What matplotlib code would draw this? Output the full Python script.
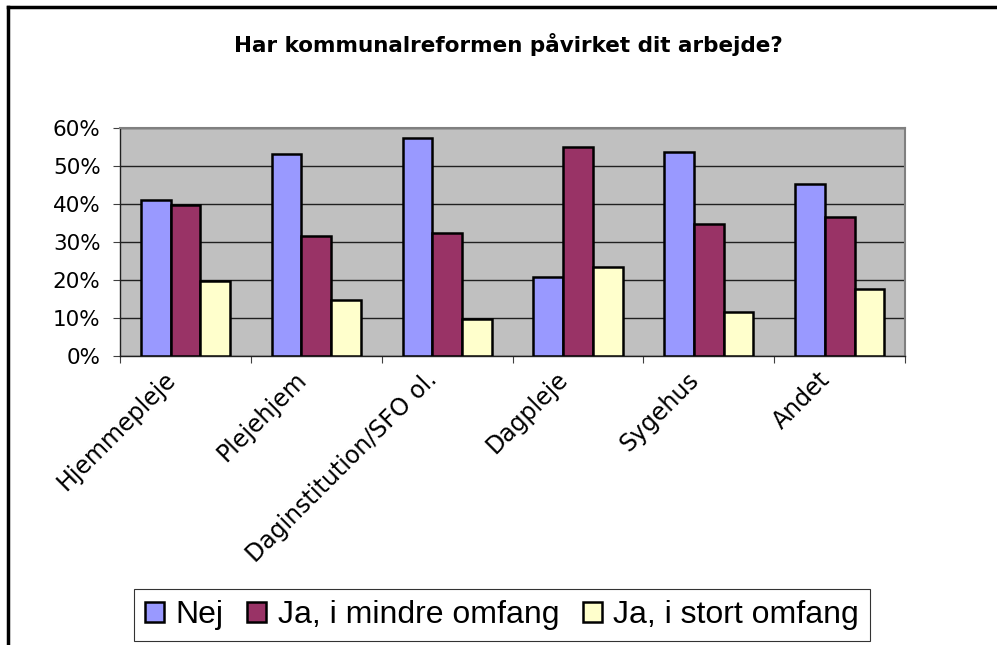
import numpy as np
import matplotlib.pyplot as plt
import matplotlib.transforms as mtransforms
from matplotlib.ticker import FuncFormatter, MultipleLocator, FixedLocator
from matplotlib.lines import Line2D

# Data
categories = ['Hjemmepleje', 'Plejehjem', 'Daginstitution/SFO ol.', 'Dagpleje', 'Sygehus', 'Andet']
nej = [41.0, 53.2, 57.4, 20.8, 53.8, 45.3]
ja_mindre = [39.7, 31.7, 32.4, 55.0, 34.8, 36.7]
ja_stort = [19.6, 14.6, 9.7, 23.3, 11.7, 17.7]
series_names = ['Nej', 'Ja, i mindre omfang', 'Ja, i stort omfang']
colors = ['#9999FF', '#993366', '#FFFFCC']

plt.rcParams['font.family'] = ['Liberation Sans', 'DejaVu Sans']

fig = plt.figure(figsize=(9.97, 6.45), dpi=100)
ax = fig.add_axes([0.1204, 0.4481, 0.7874, 0.3535])
ax.set_facecolor('#C0C0C0')

x = np.arange(len(categories))
w = 0.227
for i, (vals, name, c) in enumerate(zip([nej, ja_mindre, ja_stort], series_names, colors)):
    ax.bar(x + (i - 1) * w, vals, width=w, color=c, edgecolor='black', linewidth=1.8,
           label=name, zorder=3)

ax.set_xlim(-0.5, len(categories) - 0.5)
ax.set_ylim(0, 60)
ax.yaxis.set_major_locator(MultipleLocator(10))
ax.yaxis.set_major_formatter(FuncFormatter(lambda v, p: f'{v:.0f}%'))
ax.grid(axis='y', color='#202020', linewidth=1.0, zorder=1)
ax.tick_params(axis='y', labelsize=15.5, direction='out', length=5, pad=9, color='#404040')
for lbl in ax.get_yticklabels():
    lbl.set_family('DejaVu Sans')

ax.xaxis.set_major_locator(FixedLocator(np.arange(-0.5, len(categories), 1.0)))
ax.xaxis.set_major_formatter(FuncFormatter(lambda v, p: ''))
ax.xaxis.set_minor_locator(FixedLocator(x))
ax.set_xticklabels(categories, minor=True, rotation=45, ha='right', rotation_mode='anchor',
                   fontsize=17, family='DejaVu Sans')
ax.tick_params(axis='x', which='major', direction='out', length=5, color='#404040')
ax.tick_params(axis='x', which='minor', length=0, pad=6)
shift = mtransforms.ScaledTranslation(-22 / 100, -3 / 100, fig.dpi_scale_trans)
for lbl in ax.get_xticklabels(minor=True):
    lbl.set_transform(lbl.get_transform() + shift)

for s in ['top', 'right']:
    ax.spines[s].set_color('#808080')
    ax.spines[s].set_linewidth(1.5)
for s in ['left', 'bottom']:
    ax.spines[s].set_color('#202020')
    ax.spines[s].set_linewidth(1.0)

fig.text(0.51, 0.931, 'Har kommunalreformen påvirket dit arbejde?', ha='center', va='center',
         fontsize=15.5, fontweight='bold', family='DejaVu Sans')

leg = fig.legend(loc='center', bbox_to_anchor=(0.5035, 0.0465), ncol=3, fontsize=23,
                 frameon=True, fancybox=False, edgecolor='black', handlelength=0.6,
                 handleheight=0.6, handletextpad=0.35, columnspacing=0.75, borderpad=0.35)
leg.get_frame().set_linewidth(0.8)

# outer chart frame (top and left edges visible)
fig.add_artist(Line2D([0.008, 0.008], [0.0, 0.989], color='black', linewidth=2.5,
                      transform=fig.transFigure))
fig.add_artist(Line2D([0.008, 1.0], [0.989, 0.989], color='black', linewidth=2.5,
                      transform=fig.transFigure))

fig.savefig('out.png', dpi=100)
